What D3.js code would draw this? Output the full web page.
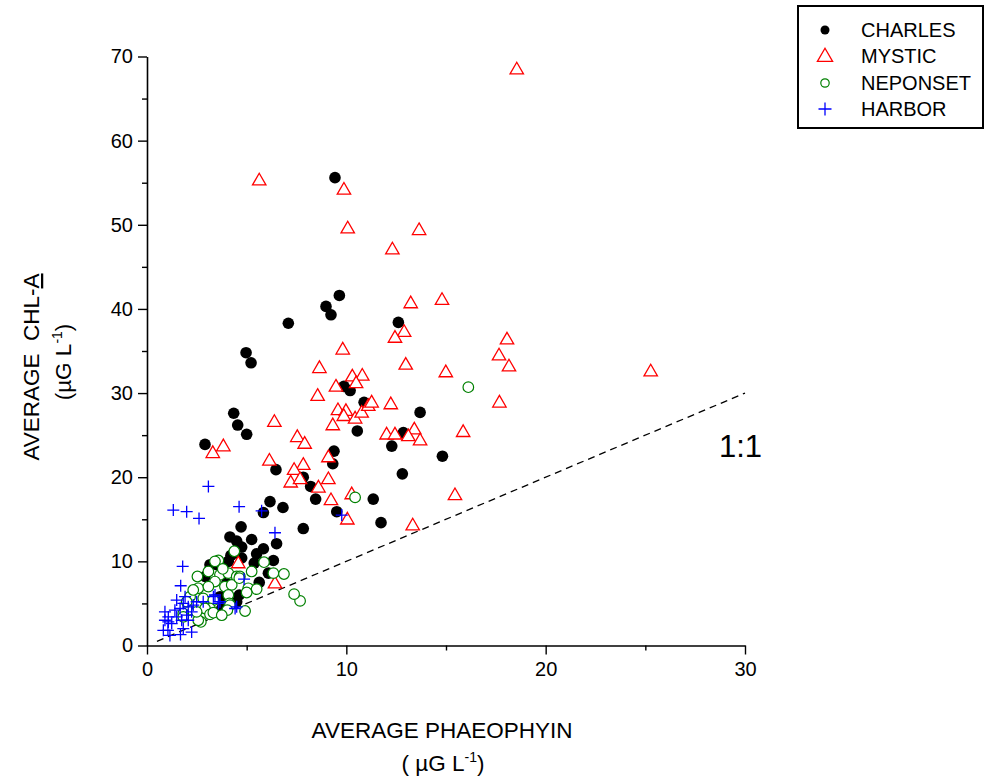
<!DOCTYPE html>
<html>
<head>
<meta charset="utf-8">
<script src="https://cdn.jsdelivr.net/npm/d3@7"></script>
<style>
  html, body { margin: 0; padding: 0; background: #fff; }
  svg { display: block; font-family: "Liberation Sans", Arial, sans-serif; }
</style>
</head>
<body>
<svg id="chart" width="985" height="777"></svg>
<script>
// Average phaeophytin (x) vs average chlorophyll-a (y), µg/L, by river/station group
const charles = [
  [9.43,55.6],[9.65,41.6],[8.98,40.3],[9.23,39.3],[7.09,38.3],[4.97,34.8],[5.22,33.6],
  [12.61,38.4],[9.88,30.8],[10.19,30.3],[10.89,28.9],[13.7,27.7],[4.35,27.6],[4.55,26.2],
  [5.0,25.1],[10.55,25.5],[12.86,25.3],[2.91,23.9],[9.38,23.1],[12.28,23.7],[14.82,22.5],
  [12.81,20.4],[9.32,21.6],[7.84,20.0],[6.47,20.9],[8.21,18.9],[8.46,17.4],[11.35,17.4],
  [6.17,17.1],[6.82,16.4],[9.52,15.9],[5.84,15.8],[11.74,14.6],[7.84,13.9],[4.72,14.1],
  [4.16,12.9],[4.5,12.4],[5.25,12.6],[6.5,12.1],[5.84,11.5],[4.21,10.7],[4.75,10.4],
  [6.34,10.1],[3.5,9.6],[4.08,10.0],[5.38,9.8],[2.91,8.2],[6.09,8.6],[5.63,7.5],
  [4.0,6.7],[4.63,6.0],[3.66,5.8],[5.5,10.9],[4.5,5.2],[3.83,4.8],[3.16,9.6],[3.75,4.4],
  [4.75,11.7],[4.0,7.4]
];
const mystic = [
  [18.55,68.4],[5.63,55.2],[9.88,54.1],[10.07,49.5],[13.65,49.3],[12.31,47.0],[13.23,40.6],
  [14.8,41.0],[12.9,37.2],[12.44,36.5],[18.06,36.3],[17.66,34.4],[18.16,33.1],[12.98,33.3],
  [14.99,32.4],[25.27,32.5],[9.82,35.1],[8.65,32.9],[9.48,30.7],[10.3,31.9],[10.8,32.0],
  [10.49,31.1],[8.56,29.6],[6.39,26.5],[9.58,27.9],[9.98,27.8],[9.87,27.2],[10.44,26.9],
  [10.77,27.6],[11.1,28.4],[11.27,28.8],[9.32,26.1],[7.54,24.7],[7.91,23.9],[3.83,23.6],
  [3.3,22.8],[12.23,28.6],[17.68,28.8],[12.02,25.0],[12.44,25.0],[13.41,25.6],[13.11,24.8],
  [13.7,24.3],[15.86,25.3],[9.1,22.3],[7.84,21.4],[9.1,19.7],[8.6,18.7],[9.23,17.2],
  [10.27,17.9],[10.05,14.9],[13.33,14.2],[15.45,17.8],[6.14,21.9],[7.38,20.8],[7.21,19.3],
  [7.68,19.7],[4.58,9.7],[6.42,7.3]
];
const neponset = [
  [16.12,30.7],[10.44,17.6],[7.68,5.3],[7.38,6.1],[4.38,11.2],[3.58,10.1],[3.41,10.0],
  [5.87,9.9],[6.34,8.6],[6.87,8.5],[5.25,8.8],[2.53,8.2],[3.66,8.4],[4.08,8.6],[4.5,8.2],
  [4.66,8.2],[3.8,9.1],[3.08,8.8],[3.41,7.6],[2.57,6.8],[3.08,7.0],[3.91,7.0],[4.25,7.2],
  [4.63,8.0],[5.08,6.8],[5.5,6.7],[5.0,6.3],[4.08,6.0],[2.16,5.8],[2.82,5.6],[4.13,5.0],
  [4.16,4.8],[3.33,5.4],[4.92,4.1],[4.03,4.2],[3.16,4.4],[2.91,4.4],[3.16,3.7],[3.33,3.9],
  [2.7,2.8],[2.57,3.0],[2.07,4.2],[1.82,3.8],[1.99,5.2],[2.49,4.0],[3.75,3.6],[1.82,3.4],
  [2.32,6.6]
];
const harbor = [
  [3.08,18.9],[1.32,16.1],[1.99,15.9],[2.61,15.1],[4.62,16.5],[5.75,16.0],[6.42,13.4],
  [9.77,15.5],[1.79,9.4],[1.69,7.1],[4.87,7.9],[4.5,4.6],[3.33,5.8],[3.58,5.0],[3.41,6.0],
  [4.42,4.4],[0.9,4.0],[1.07,2.8],[0.82,1.8],[1.15,1.2],[1.4,4.2],[1.66,4.4],[1.82,5.0],
  [2.07,4.6],[2.32,4.8],[2.49,5.2],[1.99,3.6],[2.24,4.0],[1.74,3.0],[1.49,3.4],[1.24,2.6],
  [1.82,2.0],[2.24,1.6],[2.82,5.2],[3.66,5.2],[1.07,3.4],[1.91,5.8],[1.49,5.4],[0.9,3.0],
  [2.07,3.0],[1.68,1.3],[1.05,1.8]
];
const seriesNames = ["CHARLES", "MYSTIC", "NEPONSET", "HARBOR"];
const majorTicksX = [0, 10, 20, 30];
const minorTicksX = [5, 15, 25];
const majorTicksY = [0, 10, 20, 30, 40, 50, 60, 70];
const minorTicksY = [5, 15, 25, 35, 45, 55, 65];
const oneToOne = [[0.5, 0.5], [30, 30]];

const svg = d3.select("#chart");
const x = d3.scaleLinear().domain([0, 30]).range([147, 745]);
const y = d3.scaleLinear().domain([0, 70]).range([645.5, 56.5]);

// axes: labelled major ticks plus short unlabelled minor ticks, all pointing outward
function styleAxis(g) {
  g.select(".domain").attr("stroke", "#000").attr("stroke-width", 1.6);
  g.selectAll(".tick line").attr("stroke", "#000").attr("stroke-width", 1.4);
  g.selectAll(".tick text").attr("fill", "#000").attr("font-size", 20)
    .attr("font-family", '"Liberation Sans", Arial, sans-serif');
}
const gx = svg.append("g").attr("transform", `translate(0,${y(0)})`)
  .call(d3.axisBottom(x).tickValues(majorTicksX).tickFormat(d3.format("d"))
    .tickSizeInner(9).tickSizeOuter(0).tickPadding(7));
styleAxis(gx);
const gxm = svg.append("g").attr("transform", `translate(0,${y(0)})`)
  .call(d3.axisBottom(x).tickValues(minorTicksX).tickFormat("").tickSizeInner(5).tickSizeOuter(0));
styleAxis(gxm);
gxm.select(".domain").remove();

const gy = svg.append("g").attr("transform", `translate(${x(0)},0)`)
  .call(d3.axisLeft(y).tickValues(majorTicksY).tickFormat(d3.format("d"))
    .tickSizeInner(9).tickSizeOuter(0).tickPadding(5));
styleAxis(gy);
const gym = svg.append("g").attr("transform", `translate(${x(0)},0)`)
  .call(d3.axisLeft(y).tickValues(minorTicksY).tickFormat("").tickSizeInner(5).tickSizeOuter(0));
styleAxis(gym);
gym.select(".domain").remove();

// axis titles
const xt = svg.append("text").attr("x", 442).attr("y", 738).attr("text-anchor", "middle")
  .attr("font-size", 22.5).text("AVERAGE PHAEOPHYIN");
const xt2 = svg.append("text").attr("x", 443).attr("y", 771).attr("text-anchor", "middle")
  .attr("font-size", 22.5);
xt2.append("tspan").text("( µG L");
xt2.append("tspan").attr("dy", -9).attr("font-size", 14).text("-1");
xt2.append("tspan").attr("dy", 9).text(")");

const yt = svg.append("text").attr("transform", "translate(39,367) rotate(-90)")
  .attr("text-anchor", "middle").attr("font-size", 22.5).attr("xml:space", "preserve");
yt.append("tspan").text("AVERAGE  CHL-");
yt.append("tspan").attr("text-decoration", "underline").text("A");
const yt2 = svg.append("text").attr("transform", "translate(71,362) rotate(-90)")
  .attr("text-anchor", "middle").attr("font-size", 22.5);
yt2.append("tspan").text("(µG L");
yt2.append("tspan").attr("dy", -9).attr("font-size", 14).text("-1");
yt2.append("tspan").attr("dy", 9).text(")");

// 1:1 reference line
svg.append("path").datum(oneToOne)
  .attr("d", d3.line().x(d => x(d[0])).y(d => y(d[1])))
  .attr("fill", "none").attr("stroke", "#000").attr("stroke-width", 1.3)
  .attr("stroke-dasharray", "7,5");
svg.append("text").attr("x", 719).attr("y", 457).attr("font-size", 31).text("1:1");

// marker shapes
const plusType = { draw(ctx, size) { const h = Math.sqrt(size) / 2; ctx.moveTo(-h, 0); ctx.lineTo(h, 0); ctx.moveTo(0, -h); ctx.lineTo(0, h); } };
const triPath = d3.symbol(d3.symbolTriangle, 78)();
const plusPath = d3.symbol(plusType, 144)();

// CHARLES: filled black dots
svg.append("g").selectAll("circle").data(charles).join("circle")
  .attr("cx", d => x(d[0])).attr("cy", d => y(d[1])).attr("r", 5.8).attr("fill", "#000");
// MYSTIC: open red triangles
svg.append("g").selectAll("path").data(mystic).join("path")
  .attr("d", triPath).attr("transform", d => `translate(${x(d[0])},${y(d[1])})`)
  .attr("fill", "#fff").attr("stroke", "#ff0000").attr("stroke-width", 1.3);
// NEPONSET: open green circles
svg.append("g").selectAll("circle").data(neponset).join("circle")
  .attr("cx", d => x(d[0])).attr("cy", d => y(d[1])).attr("r", 5.3)
  .attr("fill", "#fff").attr("stroke", "#008000").attr("stroke-width", 1.2);
// HARBOR: blue crosses
svg.append("g").selectAll("path").data(harbor).join("path")
  .attr("d", plusPath).attr("transform", d => `translate(${x(d[0])},${y(d[1])})`)
  .attr("fill", "none").attr("stroke", "#0000ff").attr("stroke-width", 1.3);

// legend
const lg = svg.append("g");
lg.append("rect").attr("x", 798).attr("y", 6).attr("width", 185).attr("height", 122)
  .attr("fill", "#fff").attr("stroke", "#000").attr("stroke-width", 2);
const rowY = [30, 56, 83, 109];
const mx = 825;
lg.append("circle").attr("cx", mx).attr("cy", rowY[0]).attr("r", 4.5).attr("fill", "#000");
lg.append("path").attr("d", d3.symbol(d3.symbolTriangle, 100)())
  .attr("transform", `translate(${mx},${rowY[1] + 1})`)
  .attr("fill", "#fff").attr("stroke", "#ff0000").attr("stroke-width", 1.3);
lg.append("circle").attr("cx", mx).attr("cy", rowY[2]).attr("r", 4.2)
  .attr("fill", "#fff").attr("stroke", "#008000").attr("stroke-width", 1.2);
lg.append("path").attr("d", d3.symbol(plusType, 169)())
  .attr("transform", `translate(${mx},${rowY[3]})`)
  .attr("fill", "none").attr("stroke", "#0000ff").attr("stroke-width", 1.3);
lg.selectAll("text.lbl").data(seriesNames).join("text").attr("class", "lbl")
  .attr("x", 861).attr("y", (d, i) => rowY[i]).attr("dy", "0.36em")
  .attr("font-size", 20).text(d => d);
</script>
</body>
</html>
